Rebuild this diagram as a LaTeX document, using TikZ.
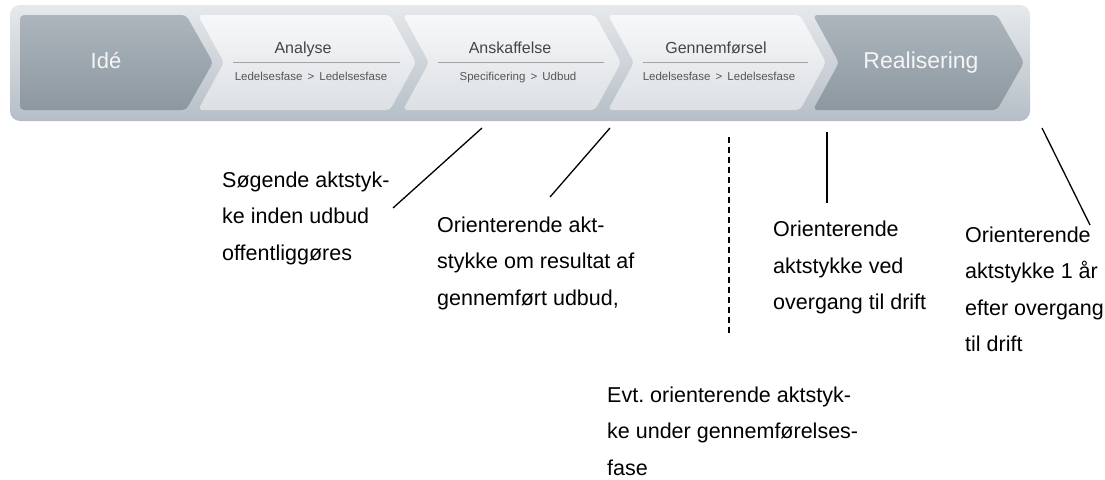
\documentclass[tikz,border=0pt]{standalone}
\usepackage{fontspec}
\setmainfont{Liberation Sans}
\frenchspacing
\definecolor{barTop}{HTML}{E6E9EC}
\definecolor{barBot}{HTML}{B5BEC6}
\definecolor{darkTop}{HTML}{ADB6BD}
\definecolor{darkBot}{HTML}{8C97A0}
\definecolor{lightTop}{HTML}{F7F8F9}
\definecolor{lightBot}{HTML}{DCE0E4}
\definecolor{titleGray}{HTML}{454545}
\definecolor{subGray}{HTML}{555555}
\definecolor{ruleGray}{HTML}{A0A4A8}
\definecolor{bigText}{HTML}{F4F5F6}
\tikzset{
  darkchev/.style={top color=darkTop, bottom color=darkBot, rounded corners=4pt},
  lightchev/.style={top color=lightTop, bottom color=lightBot, rounded corners=4pt},
  bigtitle/.style={anchor=base, inner sep=0pt, text=bigText, font=\fontsize{22}{26}\selectfont},
  phasetitle/.style={anchor=base, inner sep=0pt, text=titleGray, font=\fontsize{16}{19}\selectfont},
  phasesub/.style={anchor=base, inner sep=0pt, text=subGray, font=\fontsize{11.5}{14}\selectfont},
  phaserule/.style={draw=ruleGray, line width=0.9pt},
  note/.style={anchor=north west, inner sep=0pt, align=left, text=black, font=\fontsize{21.5}{36.5}\selectfont},
  leader/.style={draw=black, line width=1.3pt},
  dashleader/.style={draw=black, line width=1.3pt, dash pattern=on 6pt off 4pt},
}
\begin{document}
\begin{tikzpicture}[x=1pt, y=-1pt]
\useasboundingbox (0,0) rectangle (1105,479);
\fill[white] (0,0) rectangle (1105,479);
% outer bar
\shade[top color=barTop, bottom color=barBot, rounded corners=10pt] (10,5) rectangle (1030,121);
% Idé
\shade[darkchev] (20,15) -- (186,15) -- (213,62.5) -- (186,110) -- (20,110) -- cycle;
% light chevrons
\shade[lightchev] (198,15) -- (390,15) -- (416,62.5) -- (390,110) -- (198,110) -- (224,62.5) -- cycle;
\shade[lightchev] (403,15) -- (595,15) -- (621,62.5) -- (595,110) -- (403,110) -- (429,62.5) -- cycle;
\shade[lightchev] (608,15) -- (800,15) -- (826,62.5) -- (800,110) -- (608,110) -- (634,62.5) -- cycle;
% Realisering
\shade[darkchev] (813,15) -- (997,15) -- (1024,62.5) -- (997,110) -- (813,110) -- (839,62.5) -- cycle;

\node[bigtitle] (ide) at (106,68) {Idé};
\node[bigtitle, font=\fontsize{23}{27}\selectfont] (real) at (921,68) {Realisering};

\node[phasetitle] (ana) at (303,53) {Analyse};
\draw[phaserule] (233,62) -- (400,62);
\node[phasesub] (anasub) at (311,80) {Ledelsesfase \,>\, Ledelsesfase};

\node[phasetitle] (ansk) at (510,53) {Anskaffelse};
\draw[phaserule] (438,62) -- (604,62);
\node[phasesub] (anssub) at (518,80) {Specificering \,>\, Udbud};

\node[phasetitle] (genn) at (716,53) {Gennemførsel};
\draw[phaserule] (643,62) -- (808,62);
\node[phasesub] (gensub) at (719,80) {Ledelsesfase \,>\, Ledelsesfase};

% annotation texts
\node[note] (n1) at (222,161.5) {\strut Søgende aktstyk-\\ke inden udbud\\offentliggøres};
\node[note] (n2) at (437,206.5) {\strut Orienterende akt-\\stykke om resultat af\\gennemført udbud,};
\node[note] (n3) at (773,211) {\strut Orienterende\\aktstykke ved\\overgang til drift};
\node[note] (n4) at (965,216.5) {\strut Orienterende\\aktstykke 1 år\\efter overgang\\til drift};
\node[note] (n5) at (607,376.5) {\strut Evt. orienterende aktstyk-\\ke under gennemførelses-\\fase};

% leader lines
\coordinate (a1) at (482,128); \coordinate (b1) at (393,208);
\coordinate (a2) at (610,128); \coordinate (b2) at (550,197);
\coordinate (a3) at (729,137); \coordinate (b3) at (729,335);
\coordinate (a4) at (827,132); \coordinate (b4) at (827,203);
\coordinate (a5) at (1042,128); \coordinate (b5) at (1090,225);
\draw[leader] (a1) -- (b1);
\draw[leader] (a2) -- (b2);
\draw[dashleader] (a3) -- (b3);
\draw[leader] (a4) -- (b4);
\draw[leader] (a5) -- (b5);
\end{tikzpicture}
\end{document}
